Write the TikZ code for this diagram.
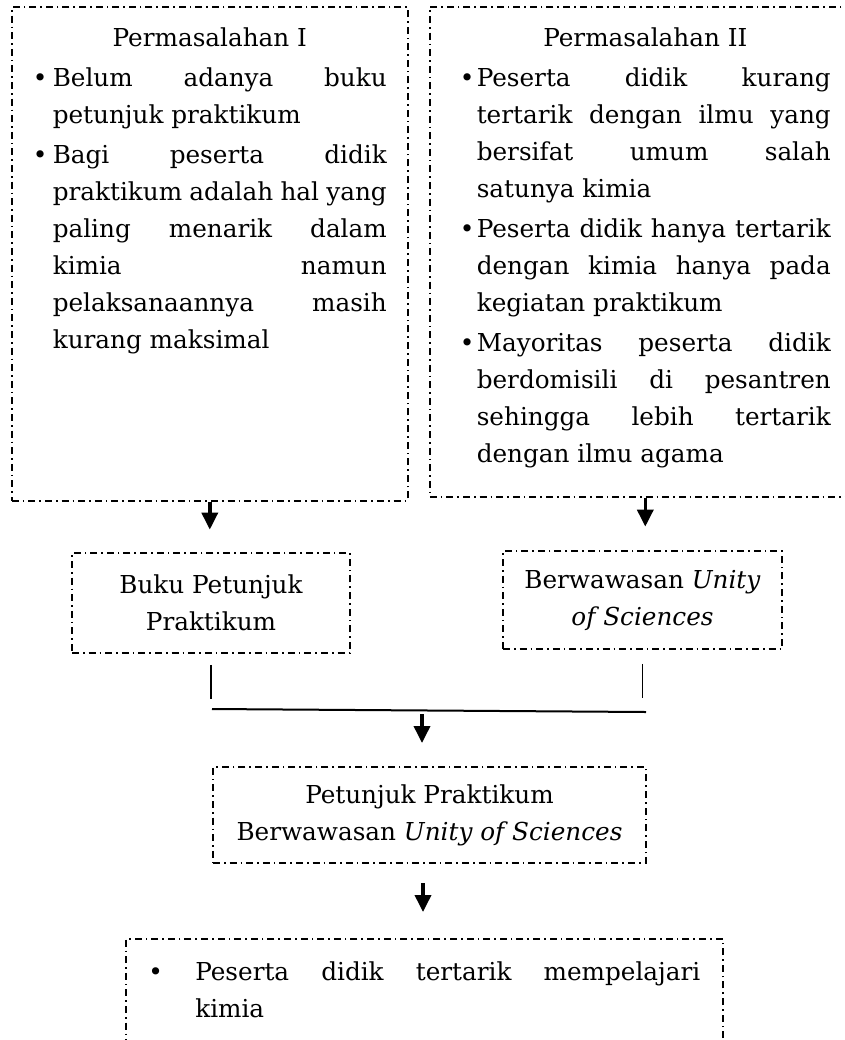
\documentclass[tikz,border=0pt]{standalone}
\usepackage{fontspec}
\setmainfont{DejaVu Serif}
\usetikzlibrary{arrows.meta,positioning}
\tikzset{
  ar/.style={-{Triangle[length=8.5pt,width=8pt]},line width=1.8pt},
  garis/.style={line width=0.7pt},
  kotak/.style={draw,line width=0.8pt,dash pattern=on 3.5pt off 2pt on 0.8pt off 2pt,inner sep=0pt},
  teks/.style={font=\fontsize{12.35pt}{18.5pt}\selectfont}
}
\newcommand{\butir}[2]{\par\hangindent=#1\hangafter=1\noindent\makebox[#1][l]{\textbullet}#2\par}

\begin{document}
\begin{tikzpicture}[x=0.5pt,y=-0.5pt,teks]
\useasboundingbox (0,0) rectangle (845,1040);
\clip (0,0) rectangle (845,1040);
\node[kotak,anchor=north west,inner xsep=10.5pt,inner ysep=10.6pt] (masalah1) at (11,6) {%
\begin{minipage}[t][225.8pt][t]{177pt}\parskip=1.5pt
{\centering Permasalahan I\par}
\butir{10pt}{Belum adanya buku\linebreak petunjuk praktikum}
\butir{10pt}{Bagi peserta didik\linebreak praktikum adalah hal yang\linebreak paling menarik dalam\linebreak kimia namun\linebreak pelaksanaannya masih\linebreak kurang maksimal}
\end{minipage}};
\node[kotak,anchor=north west,inner xsep=15pt,inner ysep=10.6pt] (masalah2) at (429,6) {%
\begin{minipage}[t][223.8pt][t]{185.5pt}\parskip=1.5pt
{\centering Permasalahan II\par}
\butir{8.5pt}{Peserta didik kurang\linebreak tertarik dengan ilmu yang\linebreak bersifat umum salah\linebreak satunya kimia}
\butir{8.5pt}{Peserta didik hanya tertarik\linebreak dengan kimia hanya pada\linebreak kegiatan praktikum}
\butir{8.5pt}{Mayoritas peserta didik\linebreak berdomisili di pesantren\linebreak sehingga lebih tertarik\linebreak dengan ilmu agama}
\end{minipage}};
\node[kotak,align=center,minimum width=139pt,minimum height=50pt] (buku) at (211,603) {Buku Petunjuk\\Praktikum};
\node[kotak,align=center,minimum width=139.5pt,minimum height=49pt] (unity) at (642.5,600) {Berwawasan \textit{Unity}\\\textit{of Sciences}};
\node[kotak,align=center,minimum width=216.5pt,minimum height=48pt] (petunjuk) at (429.5,815) {Petunjuk Praktikum\\Berwawasan \textit{Unity of Sciences}};
\node[kotak,anchor=north west,inner xsep=11.25pt,inner ysep=11.6pt] (hasil) at (125,938) {%
\begin{minipage}[t][60pt][t]{276pt}
\butir{23.5pt}{Peserta didik tertarik mempelajari\linebreak kimia}
\end{minipage}};
\coordinate[below=14pt of masalah1.south] (u1);
\coordinate[below=14.5pt of masalah2.south] (u2);
\draw[ar] (masalah1.south) -- (u1);
\draw[ar] (masalah2.south) -- (u2);
\coordinate[below=5.5pt of buku.south] (v1);
\coordinate[below=22.5pt of buku.south] (v2);
\coordinate[below=7pt of unity.south] (w1);
\coordinate[below=24pt of unity.south] (w2);
\draw[garis] (v1) -- (v2);
\draw[garis] (w1) -- (w2);
\coordinate (h1) at (212,709);
\coordinate (h2) at (646,712);
\draw[line width=1pt] (h1) -- (h2);
\coordinate (p1) at (422,714);
\coordinate (p2) at (422,743);
\draw[ar] (p1) -- (p2);
\coordinate (q1) at (423,883);
\coordinate (q2) at (423,912);
\draw[ar] (q1) -- (q2);
\end{tikzpicture}
\end{document}
